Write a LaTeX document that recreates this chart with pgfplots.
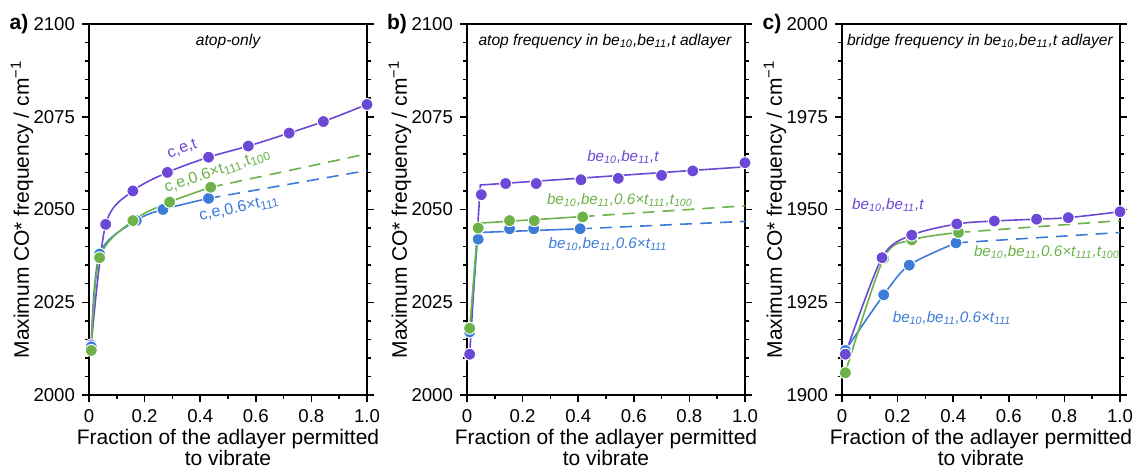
\documentclass[border=0pt]{standalone}
\usepackage{fontspec}
\setmainfont{Liberation Sans}
\usepackage{pgfplots}
\pgfplotsset{compat=1.18}

\definecolor{cpur}{RGB}{107,72,214}
\definecolor{cgrn}{RGB}{108,178,72}
\definecolor{cblu}{RGB}{60,124,216}

\pgfplotsset{
  panel/.style={
    scale only axis, width=139pt, height=185.5pt,
    xmin=0, xmax=1, clip=false,
    xtick={0,0.2,0.4,0.6,0.8,1}, xticklabels={0,0.2,0.4,0.6,0.8,1.0},
    minor x tick num=1, minor y tick num=4,
    tick align=outside, xtick pos=left, ytick pos=both,
    major tick length=3.5pt, minor tick length=2pt,
    axis line style={line width=0.9pt},
    every tick/.style={black, line width=0.75pt},
    tick label style={font=\fontsize{9.3}{10}\selectfont},
    /pgf/number format/assume math mode=true,
    /pgf/number format/1000 sep={},
    xlabel={Fraction of the adlayer permitted\\to vibrate},
    ylabel={Maximum CO* frequency / cm\textsuperscript{−1}},
    label style={font=\fontsize{10.5}{10.5}\selectfont},
    xlabel style={at={(axis description cs:0.5,0)}, anchor=center, yshift=-26pt, align=center},
    ylabel style={at={(axis description cs:-0.241,0.5)}, anchor=center},
  },
  ser/.style={color=#1, line width=0.8pt, mark=*, mark size=3pt,
    mark options={solid, draw=white, fill=#1, line width=0.5pt}},
  lin/.style={color=#1, line width=0.8pt, no marks},
  dsh/.style={color=#1, line width=0.8pt, no marks, dash pattern=on 6pt off 4pt},
  mks/.style={only marks, mark=*, mark size=3pt,
    mark options={draw=white, fill=#1, line width=0.5pt}},
}
\newcommand{\ttl}{\itshape\fontsize{7.8}{9}\selectfont}
\newcommand{\slb}{\itshape\fontsize{7.6}{9}\selectfont}
\newcommand{\lbl}{\fontsize{8}{9}\selectfont}
\newcommand{\pnl}{\bfseries\fontsize{10.5}{12}\selectfont}

\begin{document}
\begin{tikzpicture}
\useasboundingbox (-44.5pt,-36pt) rectangle (522.5pt,197.5pt);

% ---- a) atop-only
\begin{axis}[panel, ymin=2000, ymax=2100, ytick={2000,2025,2050,2075,2100}]
\addplot[ser=cpur, smooth] coordinates {(0.008,2013.5) (0.060,2046) (0.158,2055) (0.282,2060)
  (0.430,2064.1) (0.573,2067.1) (0.720,2070.6) (0.843,2073.7) (1.0,2078.3)};
\addplot[dsh=cblu] coordinates {(0.43,2053) (1.0,2060.5)};
\addplot[dsh=cgrn] coordinates {(0.438,2056) (1.0,2065)};
\addplot[ser=cblu, smooth] coordinates {(0.008,2013) (0.038,2038) (0.17,2047) (0.266,2050) (0.43,2053)};
\addplot[ser=cgrn, smooth] coordinates {(0.008,2012) (0.038,2037) (0.158,2047) (0.29,2052) (0.438,2056)};
\node[font=\ttl] at (rel axis cs:0.5,0.954) {atop-only};
\node[font=\lbl, text=cpur, rotate=20] at (axis cs:0.335,2066.3) {c,e,t};
\node[font=\lbl, text=cgrn, rotate=19] at (axis cs:0.462,2060.4) {c,e,0.6×t\textsubscript{111},t\textsubscript{100}};
\node[font=\lbl, text=cblu, rotate=12] at (axis cs:0.54,2050.4) {c,e,0.6×t\textsubscript{111}};
\node[font=\pnl] at (rel axis cs:0,1) [xshift=-35pt] {a)};
\end{axis}

% ---- b) atop frequency in be10,be11,t adlayer
\begin{axis}[panel, at={(189pt,0pt)}, ymin=2000, ymax=2100, ytick={2000,2025,2050,2075,2100}]
\addplot[lin=cpur] coordinates {(0.0096,2011) (0.048,2056.6) (1.0,2061.5)};
\addplot[lin=cblu] coordinates {(0.0096,2017) (0.04,2043.8) (0.407,2044.8)};
\addplot[dsh=cblu] coordinates {(0.407,2044.8) (1.0,2046.8)};
\addplot[lin=cgrn] coordinates {(0.0096,2017.8) (0.04,2046.3) (0.416,2048.1)};
\addplot[dsh=cgrn] coordinates {(0.416,2048.1) (1.0,2051)};
\addplot[mks=cpur] coordinates {(0.0096,2011) (0.0515,2054) (0.139,2057) (0.249,2057) (0.41,2058)
  (0.544,2058.4) (0.70,2059.2) (0.812,2060.4) (1.0,2062.6)};
\addplot[mks=cblu] coordinates {(0.0096,2017) (0.04,2042) (0.153,2044.8) (0.24,2044.8) (0.407,2044.8)};
\addplot[mks=cgrn] coordinates {(0.0096,2018) (0.04,2045) (0.153,2047) (0.242,2047) (0.416,2048)};
\node[font=\ttl] at (rel axis cs:0.496,0.954) {atop frequency in be\textsubscript{10},be\textsubscript{11},t adlayer};
\node[font=\slb, text=cpur] at (axis cs:0.561,2064.2) {be\textsubscript{10},be\textsubscript{11},t};
\node[font=\slb, text=cgrn] at (axis cs:0.55,2052.6) {be\textsubscript{10},be\textsubscript{11},0.6×t\textsubscript{111},t\textsubscript{100}};
\node[font=\slb, text=cblu] at (axis cs:0.507,2040.8) {be\textsubscript{10},be\textsubscript{11},0.6×t\textsubscript{111}};
\node[font=\pnl] at (rel axis cs:0,1) [xshift=-35pt] {b)};
\end{axis}

% ---- c) bridge frequency in be10,be11,t adlayer
\begin{axis}[panel, at={(376.5pt,0pt)}, ymin=1900, ymax=2000, ytick={1900,1925,1950,1975,2000}]
\addplot[dsh=cblu] coordinates {(0.41,1941) (1.0,1943.8)};
\addplot[dsh=cgrn] coordinates {(0.419,1943.8) (1.0,1947)};
\addplot[ser=cblu, smooth] coordinates {(0.012,1912) (0.15,1927) (0.242,1935) (0.41,1941)};
\addplot[ser=cgrn, smooth] coordinates {(0.012,1906) (0.15,1936.8) (0.251,1941.8) (0.419,1943.8)};
\addplot[ser=cpur, smooth] coordinates {(0.012,1911) (0.144,1937) (0.251,1943.1) (0.413,1946.1)
  (0.548,1946.9) (0.70,1947.4) (0.814,1947.8) (1.0,1949.4)};
\node[font=\ttl] at (rel axis cs:0.496,0.954) {bridge frequency in be\textsubscript{10},be\textsubscript{11},t adlayer};
\node[font=\slb, text=cpur] at (axis cs:0.165,1951.2) {be\textsubscript{10},be\textsubscript{11},t};
\node[font=\slb, text=cgrn] at (axis cs:0.737,1938.5) {be\textsubscript{10},be\textsubscript{11},0.6×t\textsubscript{111},t\textsubscript{100}};
\node[font=\slb, text=cblu] at (axis cs:0.396,1920.8) {be\textsubscript{10},be\textsubscript{11},0.6×t\textsubscript{111}};
\node[font=\pnl] at (rel axis cs:0,1) [xshift=-35pt] {c)};
\end{axis}
\end{tikzpicture}
\end{document}
